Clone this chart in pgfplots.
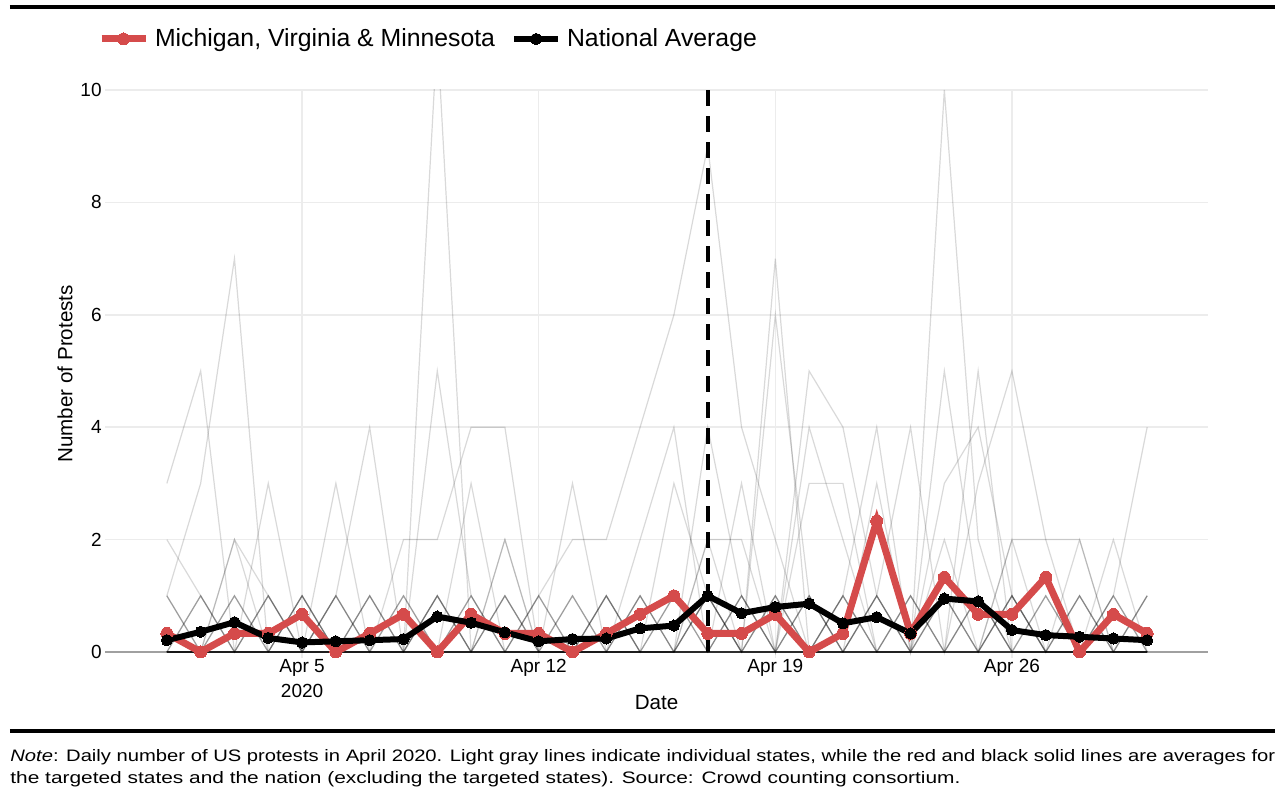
\documentclass[border=0pt]{standalone}
\usepackage{fontspec}
\setmainfont{Liberation Sans}
\usepackage{graphicx}
\usepackage{pgfplots}
\pgfplotsset{compat=1.18}
\usepackage{pgfplotstable}
\definecolor{tred}{RGB}{213,75,75}
\definecolor{gridc}{RGB}{236,236,236}
\definecolor{zeroc}{RGB}{160,160,160}

\pgfplotstableread{
d s1 s2 s3 s4 s5 s6 s7 s8 s9 s10 s11 s12 s13 s14 s15 s16 s17 s18 s19 s20 s21 s22 s23 s24 s25 s26
1 3 1 2 0 0 1 0 0 0 0 0 0 1 0 0 0 0 0 0 0 0 0 0 0 0 1
2 5 3 1 0 0 0 1 0 0 1 0 0 0 0 1 0 0 0 0 0 0 0 0 0 0 0
3 0 7 0 0 1 0 0 0 1 0 0 1 0 0 0 0 2 0 0 0 0 0 0 0 2 0
4 1 0 0 3 0 0 0 1 0 0 0 0 1 0 0 1 1 0 0 0 0 0 0 0 0 0
5 0 0 1 0 0 0 1 0 0 0 1 0 0 0 0 0 0 0 0 0 0 0 1 0 0 1
6 0 1 0 0 3 1 0 0 0 1 0 0 0 0 0 0 1 0 1 0 0 0 0 0 0 0
7 1 0 0 1 0 4 0 0 0 0 0 1 0 0 0 1 0 0 0 0 0 0 0 0 0 0
8 0 0 0 0 1 0 2 0 0 0 0 0 0 1 0 0 0 0 0 0 0 1 0 0 0 0
9 0 1 0 0 0 0 2 5 11 0 1 0 0 0 0 1 0 1 0 0 0 0 0 0 0 1
10 0 0 1 0 0 0 4 1 0 3 0 0 0 1 0 0 0 0 0 1 0 0 0 0 0 0
11 1 0 0 0 0 1 4 0 0 0 0 0 1 0 2 0 0 0 0 0 0 0 0 1 2 0
12 0 0 0 1 0 0 0 0 1 0 1 0 0 0 0 0 1 0 0 0 0 0 0 0 0 0
13 0 1 0 0 1 0 0 0 0 0 2 3 0 0 0 0 0 0 0 0 0 0 0 0 0 1
14 0 0 1 0 0 0 0 1 0 0 2 0 0 0 1 0 0 0 1 0 0 0 1 0 0 0
15 0 0 0 1 0 0 1 0 0 1 4 0 0 2 0 0 0 1 0 0 0 0 0 0 0 0
16 1 0 0 0 1 0 0 0 0 0 6 0 0 4 3 0 1 0 0 0 0 0 0 0 0 0
17 0 1 0 0 0 1 0 0 0 0 9 1 4 0 1 2 0 1 0 0 1 0 0 0 2 0
18 0 0 1 0 0 0 1 0 1 0 4 0 1 0 0 2 3 0 0 1 0 0 0 0 0 0
19 1 0 0 0 1 0 0 1 0 0 2 0 0 7 6 0 0 0 1 0 0 0 0 0 0 0
20 0 0 0 1 0 0 0 0 0 1 0 0 0 0 1 5 4 3 0 0 1 0 0 1 0 0
21 0 1 0 0 0 0 1 0 0 0 0 1 0 0 0 4 2 3 1 0 0 0 0 0 0 1
22 0 0 0 0 1 0 0 0 1 0 1 0 0 0 0 1 0 0 4 1 0 3 1 0 0 0
23 1 0 1 0 0 1 0 0 0 0 0 0 0 1 0 0 0 0 0 4 0 0 0 0 0 0
24 0 0 0 1 0 0 0 1 0 1 0 0 1 0 0 0 0 0 5 0 10 3 0 2 0 0
25 0 1 0 0 0 1 0 0 0 0 0 1 0 0 0 1 0 0 1 3 2 4 5 0 0 0
26 1 0 0 0 1 0 1 0 0 0 0 0 0 0 1 0 0 1 0 5 0 1 0 2 2 0
27 0 0 1 0 0 0 0 1 0 0 1 0 0 0 0 0 0 0 0 2 0 0 0 2 0 0
28 0 0 0 1 0 0 1 0 0 0 0 1 0 0 0 0 1 0 0 2 0 0 0 0 2 0
29 0 1 0 0 0 0 0 0 1 0 0 0 1 0 0 0 0 0 0 0 0 2 0 1 0 0
30 0 0 0 0 1 0 0 1 0 1 0 0 0 0 0 0 0 0 0 0 0 0 1 4 0 0
}\states

\pgfplotstableread{
d mvm nat
1 0.33 0.21
2 0.00 0.36
3 0.33 0.53
4 0.33 0.25
5 0.67 0.17
6 0.00 0.19
7 0.33 0.21
8 0.67 0.23
9 0.00 0.63
10 0.67 0.52
11 0.33 0.35
12 0.33 0.19
13 0.00 0.23
14 0.33 0.24
15 0.67 0.42
16 1.00 0.47
17 0.33 1.00
18 0.33 0.69
19 0.67 0.80
20 0.00 0.86
21 0.33 0.51
22 2.33 0.62
23 0.33 0.33
24 1.33 0.95
25 0.67 0.90
26 0.67 0.39
27 1.33 0.30
28 0.00 0.27
29 0.67 0.24
30 0.33 0.21
}\avg

\begin{document}
\begin{tikzpicture}
\begin{axis}[
  scale only axis, width=551.5pt, height=283.8pt,
  xmin=-0.83, xmax=31.8, ymin=-0.1, ymax=10,
  axis line style={draw=none},
  major tick length=0pt,
  /pgf/number format/assume math mode=true,
  xtick={5,12,19,26},
  xticklabels={{Apr 5\\2020},{Apr 12},{Apr 19},{Apr 26}},
  xticklabel style={anchor=north, inner sep=0pt, yshift=-0.6pt, align=center, font=\fontsize{9.5}{12.5}\selectfont},
  ytick={2,4,6,8,10},
  extra y ticks={0},
  extra y tick style={grid=major, major grid style={zeroc, line width=1pt}},
  yticklabel style={anchor=east, inner sep=0pt, xshift=-1.5pt, font=\fontsize{9.5}{11}\selectfont},
  grid=major,
  major grid style={gridc, line width=0.75pt},
  xlabel={Date},
  ylabel={Number of Protests},
  x label style={at={(axis description cs:0.5,0)}, anchor=north, yshift=-18.7pt, inner sep=0pt, font=\fontsize{10.3}{12}\selectfont},
  y label style={at={(axis description cs:0,0.5)}, anchor=center, yshift=20pt, inner sep=0pt, font=\fontsize{10.3}{12}\selectfont},
  legend style={at={(axis description cs:-0.0063,1.0899)}, anchor=west,
    draw=none, fill=none, inner sep=0pt, outer sep=0pt,
    legend columns=2, legend cell align=left,
    font=\fontsize{12.4}{14}\selectfont,
    /tikz/every odd column/.append style={column sep=1pt},
    /tikz/every even column/.append style={column sep=6pt}},
  legend image code/.code={\draw[mark repeat=2,mark phase=2] plot coordinates {(0pt,0pt) (11pt,0pt) (22pt,0pt)};},
]
\pgfplotsinvokeforeach{1,...,26}{
  \addplot[draw=black, draw opacity=0.15, line width=0.6pt, mark=none, forget plot] table[x=d, y=s#1] {\states};
}
\addplot[black, line width=2pt, dash pattern=on 8pt off 5pt, forget plot] coordinates {(17,0) (17,10)};
\addplot[tred, line width=3.5pt, mark=*, mark size=3pt, mark options={solid, fill=tred, draw=tred, line width=0pt}] table[x=d, y=mvm] {\avg};
\addlegendentry{Michigan, Virginia \& Minnesota}
\addplot[black, line width=3pt, mark=*, mark size=2.8pt, mark options={solid, fill=black, draw=black, line width=0pt}] table[x=d, y=nat] {\avg};
\addlegendentry{National Average}
\end{axis}
\draw[black, line width=2pt] (-47.5pt,325.3pt) -- (585pt,325.3pt);
\draw[black, line width=2pt] (-47.5pt,-36.7pt) -- (585pt,-36.7pt);
\node[anchor=base west, inner sep=0pt] at (-47.5pt,-51.7pt) {\resizebox{632.5pt}{\height}{\fontsize{8.3}{10}\selectfont\textit{Note}: Daily number of US protests in April 2020. Light gray lines indicate individual states, while the red and black solid lines are averages for}};
\node[anchor=base west, inner sep=0pt] at (-47.5pt,-62.7pt) {\resizebox{475pt}{\height}{\fontsize{8.3}{10}\selectfont the targeted states and the nation (excluding the targeted states). Source: Crowd counting consortium.}};
\pgfresetboundingbox
\path[use as bounding box] (-52.5pt,-70.7pt) rectangle (589.5pt,328.8pt);
\end{tikzpicture}
\end{document}
